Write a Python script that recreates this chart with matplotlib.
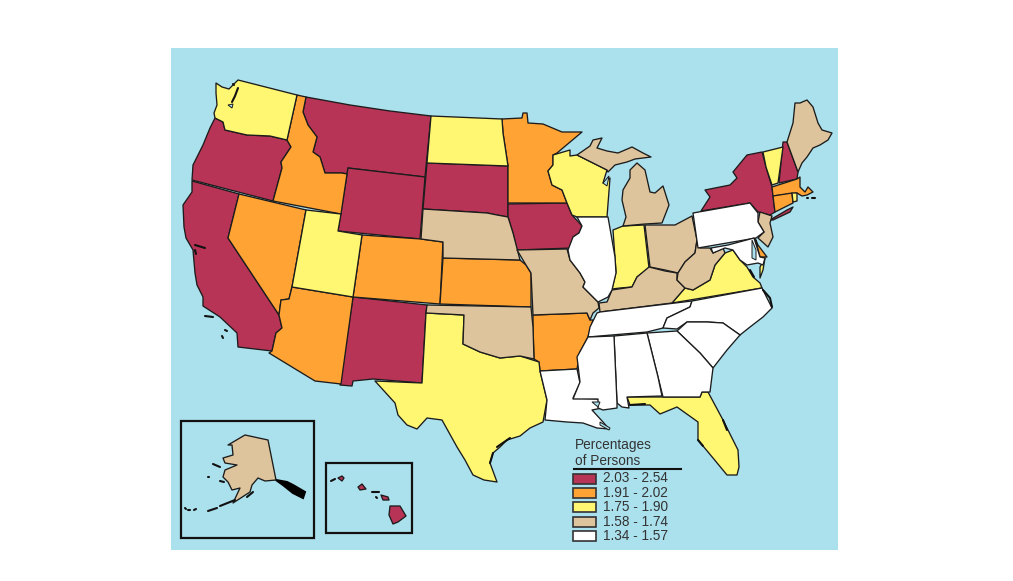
import matplotlib
matplotlib.use("Agg")
import matplotlib.pyplot as plt
from matplotlib.patches import Polygon, Rectangle

# state outlines in image pixels
WA = [(216,83),(222,87),(229,89),(238,80),(297,95),(287,140),(270,136),(247,135),(225,130),(223,122),(215,118),(214,113),(217,105),(216,93)]
OR = [(215,118),(223,122),(225,130),(247,135),(270,136),(287,140),(291,147),(281,162),(282,168),(273,201),(192,180),(193,165),(203,145),(210,128)]
CA = [(192,181),(239,194),(228,238),(279,315),(282,328),(276,333),(272,351),(238,347),(237,333),(220,317),(203,306),(203,297),(197,285),(195,273),(193,250),(186,238),(184,227),(183,205),(192,192)]
NV = [(239,194),(306,210),(292,287),(289,299),(281,300),(279,315),(228,238)]
ID = [(297,95),(306,97),(303,112),(308,125),(317,137),(313,152),(320,157),(325,173),(342,173),(347,174),(341,214),(273,201),(282,168),(281,162),(291,147),(287,140)]
MT = [(306,97),(350,105),(390,111),(431,116),(425,177),(348,168),(347,174),(342,173),(325,173),(320,157),(313,152),(317,137),(308,125),(303,112)]
WY = [(348,168),(425,177),(420,239),(338,231)]
UT = [(306,210),(341,214),(338,231),(362,235),(353,297),(292,287)]
CO = [(362,235),(421,239),(443,242),(440,304),(353,297)]
AZ = [(292,287),(353,297),(341,384),(315,381),(269,353),(272,351),(276,333),(282,328),(279,315),(281,300),(289,299)]
NM = [(353,297),(427,305),(426,313),(422,383),(373,379),(353,381),(352,386),(340,385)]
ND = [(431,116),(502,119),(503,133),(508,166),(427,163)]
SD = [(427,163),(508,166),(508,203),(508,217),(497,215),(487,213),(423,209)]
NE = [(423,209),(487,213),(497,215),(508,217),(513,233),(520,260),(443,258),(443,242),(421,239)]
KS = [(443,258),(520,260),(526,265),(531,273),(531,307),(440,304)]
OK = [(427,305),(531,307),(533,327),(534,359),(520,356),(500,358),(480,352),(463,344),(464,315),(426,313)]
TX = [(426,313),(464,315),(463,344),(480,352),(500,358),(520,356),(539,362),(540,371),(547,400),(543,422),(530,428),(520,436),(507,440),(500,447),(493,453),(490,463),(497,482),(484,480),(473,475),(465,460),(457,447),(442,420),(427,418),(417,429),(407,425),(398,415),(395,403),(385,392),(375,381),(422,383)]
MN = [(502,119),(522,118),(523,113),(527,113),(528,123),(543,124),(562,132),(582,132),(557,153),(553,155),(553,165),(548,171),(552,185),(562,190),(567,203),(508,203),(508,166),(503,133)]
IA = [(508,204),(567,203),(572,215),(582,226),(579,233),(573,237),(572,248),(517,250),(513,233),(508,217)]
MO = [(517,250),(567,249),(570,260),(580,273),(585,282),(583,287),(598,302),(599,308),(593,313),(590,320),(587,313),(533,315),(531,273),(526,265)]
AR = [(533,315),(587,313),(590,320),(593,320),(588,337),(580,352),(577,369),(540,371),(539,362),(534,359),(533,327)]
LA = [(540,371),(577,369),(580,383),(573,398),(598,399),(602,408),(592,410),(603,422),(609,429),(597,428),(583,423),(567,422),(545,420),(547,400)]
WI = [(553,155),(570,150),(570,156),(577,155),(607,170),(603,183),(610,178),(607,217),(577,217),(572,215),(567,203),(562,190),(552,185),(548,171),(553,165)]
IL = [(577,217),(608,217),(615,257),(616,273),(612,290),(608,297),(598,302),(583,287),(585,282),(580,273),(570,260),(568,250),(573,237),(579,233),(582,226)]
MI_UP = [(577,155),(590,146),(593,140),(602,138),(597,148),(607,151),(618,153),(632,147),(643,153),(651,157),(635,159),(627,162),(615,165),(608,172),(607,170)]
MI_LP = [(623,226),(645,224),(662,223),(669,205),(663,186),(655,193),(650,192),(645,170),(637,163),(630,170),(630,178),(623,190),(622,200),(626,217)]
IN = [(613,230),(623,226),(644,225),(649,268),(637,277),(632,287),(620,288),(612,289),(616,272)]
OH = [(645,225),(663,225),(675,225),(692,216),(697,240),(695,253),(685,262),(678,273),(665,270),(650,267)]
KY = [(649,267),(665,271),(677,273),(677,280),(685,288),(672,303),(600,312),(599,303),(607,302),(612,290),(632,287),(637,277)]
WV = [(697,240),(700,248),(710,248),(713,253),(723,248),(725,253),(715,265),(710,280),(693,290),(685,288),(677,280),(678,273),(685,262),(695,253)]
VA = [(672,303),(685,288),(693,290),(710,280),(715,265),(725,253),(733,250),(740,260),(747,267),(753,277),(760,283),(762,288)]
MD = [(711,248),(728,245),(754,238),(760,257),(765,258),(763,265),(758,263),(747,265),(740,260),(733,250),(725,248),(713,253)]
DE = [(755,238),(758,245),(767,257),(760,257)]
VA_SHORE = [(765,258),(763,270),(760,278),(760,267)]
PA = [(693,213),(750,203),(758,213),(758,222),(764,232),(756,238),(698,248)]
NY = [(701,211),(710,197),(705,190),(730,185),(737,178),(733,172),(747,155),(762,152),(766,167),(772,187),(775,212),(770,215),(758,212),(750,203)]
LONG_ISLAND = [(770,220),(787,210),(793,207),(790,212),(773,220)]
VT = [(763,152),(783,147),(778,183),(772,185),(766,167)]
NH = [(783,142),(787,142),(798,172),(797,179),(779,183)]
ME = [(787,142),(793,123),(795,103),(800,103),(807,100),(813,107),(818,123),(822,130),(832,133),(828,140),(820,145),(813,148),(807,157),(802,163),(798,172)]
MA = [(772,187),(797,179),(800,177),(800,187),(805,192),(808,187),(813,192),(807,195),(802,196),(797,193),(773,196)]
CT = [(773,196),(792,193),(793,203),(775,212)]
RI = [(792,193),(797,193),(797,201),(793,202)]
NJ = [(760,212),(772,216),(770,223),(773,237),(768,247),(758,238),(764,232),(758,222)]
TN = [(597,313),(600,312),(692,301),(690,307),(667,318),(663,328),(647,332),(588,337),(590,327)]
NC = [(692,301),(762,288),(772,308),(763,317),(750,327),(740,335),(723,323),(707,322),(687,322),(677,329),(663,328),(667,318),(690,307)]
SC = [(677,331),(687,322),(707,322),(723,323),(740,335),(727,350),(713,368),(700,353)]
GA = [(647,333),(677,331),(700,353),(713,368),(710,392),(702,392),(700,397),(663,397),(658,377)]
AL = [(614,336),(647,333),(658,377),(662,396),(627,397),(629,408),(622,407),(617,403)]
MS = [(588,337),(614,336),(617,403),(617,408),(603,410),(598,408),(598,399),(573,399),(580,382),(577,357)]
FL = [(627,397),(663,397),(700,397),(702,392),(708,392),(723,420),(738,450),(739,467),(737,475),(727,475),(713,458),(698,440),(698,422),(677,407),(660,414),(650,405),(630,405)]
AK = [(228,445),(245,435),(268,440),(276,480),(265,481),(258,478),(252,485),(250,492),(233,503),(240,488),(232,490),(228,482),(223,477),(225,470),(237,465),(225,463),(223,458),(233,455),(232,445)]
HI_BIG = [(390,506),(400,506),(406,516),(398,522),(393,524),(389,515)]
HI_MAUI = [(381,495),(388,497),(389,500),(383,500)]
HI_OAHU = [(358,487),(362,484),(366,489),(360,490)]
HI_KAUAI = [(338,478),(342,476),(344,478),(342,481)]

# classes
class_labels = ["2.03 - 2.54", "1.91 - 2.02", "1.75 - 1.90", "1.58 - 1.74", "1.34 - 1.57"]
class_colors = ["#B73456", "#FFA334", "#FFF671", "#DEC49C", "#FFFFFF"]
class_2_03 = [OR, CA, MT, WY, SD, IA, NM, NY, LONG_ISLAND, NH, HI_BIG, HI_MAUI, HI_OAHU, HI_KAUAI]
class_1_91 = [ID, NV, AZ, CO, KS, MN, AR, MA, CT, DE]
class_1_75 = [WA, UT, ND, TX, WI, IN, VA, VA_SHORE, VT, RI, FL]
class_1_58 = [NE, OK, MO, MI_UP, MI_LP, OH, KY, WV, NJ, ME, AK]
class_1_34 = [LA, IL, PA, MD, TN, NC, SC, GA, AL, MS]
class_states = [class_2_03, class_1_91, class_1_75, class_1_58, class_1_34]

# dark coastal detail: islands, sounds, inlets
PANHANDLE = [(276,480),(287,482),(293,485),(305,492),(303,498),(293,493),(283,485)]
ISLANDS = [
    [(205,316),(213,317)], [(225,330),(227,331)], [(222,336),(223,338)],
    [(195,245),(205,248)], [(195,250),(196,254)],
    [(232,102),(235,96),(238,88)], [(233,84),(234,85)],
    [(807,198),(808,198)], [(812,198),(815,198)],
    [(220,506),(235,500)], [(208,511),(217,508)], [(185,508),(186,509)], [(188,510),(190,510)], [(194,510),(196,509)],
    [(213,464),(220,467)], [(220,481),(224,482)], [(247,497),(253,492)], [(208,477),(209,477)],
    [(331,481),(335,479)], [(372,492),(379,492)], [(376,497),(377,498)],
    [(763,290),(770,298),(772,307)], [(750,270),(754,277)],
    [(493,453),(490,463)], [(510,438),(497,447)],
    [(723,420),(727,430)], [(698,440),(703,446)], [(630,405),(645,404)],
]
BAYS = [
    [(752,240),(756,250),(756,260),(752,258)],
    [(592,402),(600,402),(598,407)],
    [(228,105),(233,104),(232,108)],
    [(603,183),(609,176),(607,186)],
    [(600,422),(610,428),(609,430),(600,425)],
]

EDGE = "#1C1C1C"
OCEAN = "#ABE0ED"

fig = plt.figure(figsize=(10.13, 5.81), dpi=100, facecolor="white")
ax = fig.add_axes([0, 0, 1, 1])
ax.set_xlim(0, 1013)
ax.set_ylim(581, 0)
ax.axis("off")

ax.add_patch(Rectangle((171, 48), 667, 502, fc=OCEAN, ec="none", zorder=0))

for states, color in zip(class_states, class_colors):
    for outline in states:
        ax.add_patch(Polygon(outline, closed=True, fc=color, ec=EDGE, lw=0.95, joinstyle="round", zorder=2))

for bay in BAYS:
    ax.add_patch(Polygon(bay, closed=True, fc=OCEAN, ec=EDGE, lw=0.7, zorder=3))
ax.add_patch(Polygon(PANHANDLE, closed=True, fc="black", ec="black", lw=1.5, zorder=3))
for island in ISLANDS:
    xs, ys = zip(*island)
    ax.plot(xs, ys, color="#111111", lw=1.5, solid_capstyle="round", zorder=3)

# inset frames
ax.add_patch(Rectangle((181, 421), 133, 117, fc="none", ec="#111111", lw=1.6, zorder=4))
ax.add_patch(Rectangle((326, 463), 86, 70, fc="none", ec="#111111", lw=1.6, zorder=4))

# legend
font = ["Liberation Sans", "DejaVu Sans"]
ax.text(575, 445, "Percentages", family=font, fontsize=9.8, color="#333333", va="center", ha="left", zorder=5)
ax.text(575, 461, "of Persons", family=font, fontsize=9.8, color="#333333", va="center", ha="left", zorder=5)
ax.plot([574, 681], [469, 469], color="#111111", lw=1.5, zorder=5)
swatch_tops = [473.5, 488, 502, 516.5, 531]
for top, color, label in zip(swatch_tops, class_colors, class_labels):
    ax.add_patch(Rectangle((573, top), 23, 10, fc=color, ec="#333333", lw=1.2, zorder=5))
    ax.text(603, top + 5, label, family=font, fontsize=9.8, color="#333333", va="center", ha="left", zorder=5)

fig.savefig("out.png", dpi=100, facecolor="white")
